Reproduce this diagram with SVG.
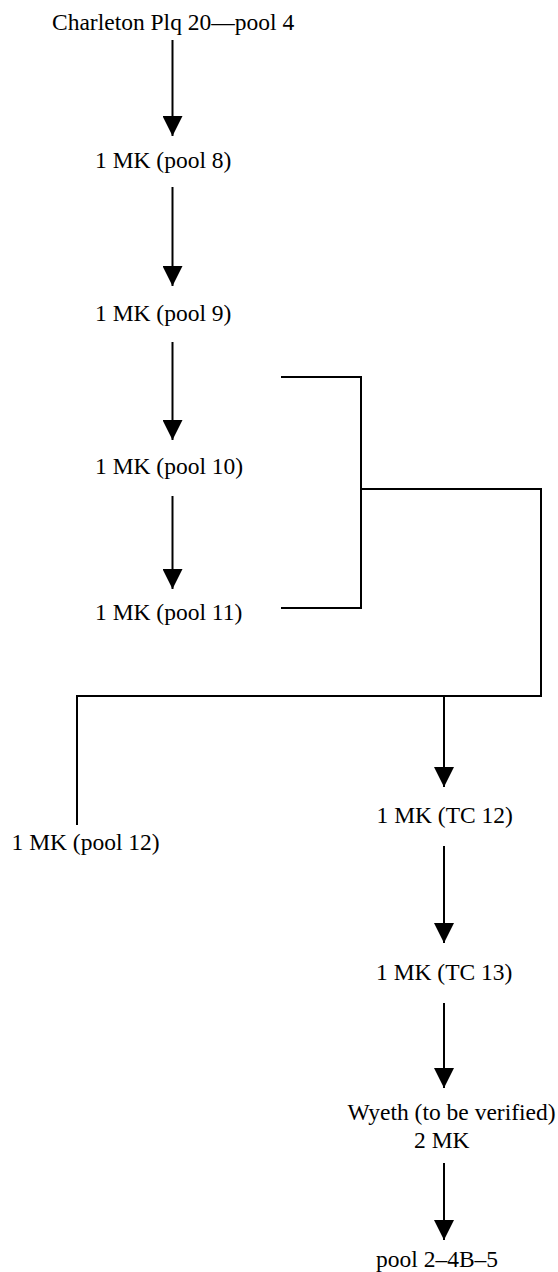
<svg xmlns="http://www.w3.org/2000/svg" width="558" height="1272" viewBox="0 0 558 1272">
  <style>
    .lbl { font-family: "Liberation Serif", "Times New Roman", serif; font-size: 23.5px; fill: #000; }
    .edge { fill: none; stroke: #000; stroke-width: 2; }
  </style>
  <defs>
    <marker id="arrow" markerUnits="userSpaceOnUse" markerWidth="20" markerHeight="20" refX="20" refY="10" orient="auto" viewBox="0 0 20 20">
      <path d="M0,0 L20,10 L0,20 z" fill="#000"/>
    </marker>
  </defs>
  <rect width="558" height="1272" fill="#fff"/>

  <g id="connectors">
    <line class="edge" x1="172.5" y1="40" x2="172.5" y2="136" marker-end="url(#arrow)"/>
    <line class="edge" x1="172.5" y1="187" x2="172.5" y2="286" marker-end="url(#arrow)"/>
    <line class="edge" x1="172.5" y1="342" x2="172.5" y2="440" marker-end="url(#arrow)"/>
    <line class="edge" x1="172.5" y1="496" x2="172.5" y2="589" marker-end="url(#arrow)"/>
    <polyline class="edge" points="281,377 361,377 361,608 281,608"/>
    <polyline class="edge" points="361,489 541,489 541,696 77,696 77,825"/>
    <line class="edge" x1="444" y1="696" x2="444" y2="787" marker-end="url(#arrow)"/>
    <line class="edge" x1="444" y1="846" x2="444" y2="943" marker-end="url(#arrow)"/>
    <line class="edge" x1="444" y1="1003" x2="444" y2="1088" marker-end="url(#arrow)"/>
    <line class="edge" x1="444" y1="1163" x2="444" y2="1240" marker-end="url(#arrow)"/>
  </g>

  <g id="n-charleton"><text class="lbl" x="52" y="29.5">Charleton Plq 20—pool 4</text></g>
  <g id="n-pool8"><text class="lbl" x="95" y="167.5">1 MK (pool 8)</text></g>
  <g id="n-pool9"><text class="lbl" x="95" y="320.5">1 MK (pool 9)</text></g>
  <g id="n-pool10"><text class="lbl" x="95" y="473.5">1 MK (pool 10)</text></g>
  <g id="n-pool11"><text class="lbl" x="95" y="620">1 MK (pool 11)</text></g>
  <g id="n-pool12"><text class="lbl" x="11.5" y="850">1 MK (pool 12)</text></g>
  <g id="n-tc12"><text class="lbl" x="376.5" y="823">1 MK (TC 12)</text></g>
  <g id="n-tc13"><text class="lbl" x="376" y="980">1 MK (TC 13)</text></g>
  <g id="n-wyeth">
    <text class="lbl" x="347.5" y="1120">Wyeth (to be verified)</text>
    <text class="lbl" x="414" y="1147.5">2 MK</text>
  </g>
  <g id="n-pool2-4b-5"><text class="lbl" x="376" y="1266.5">pool 2–4B–5</text></g>
</svg>
